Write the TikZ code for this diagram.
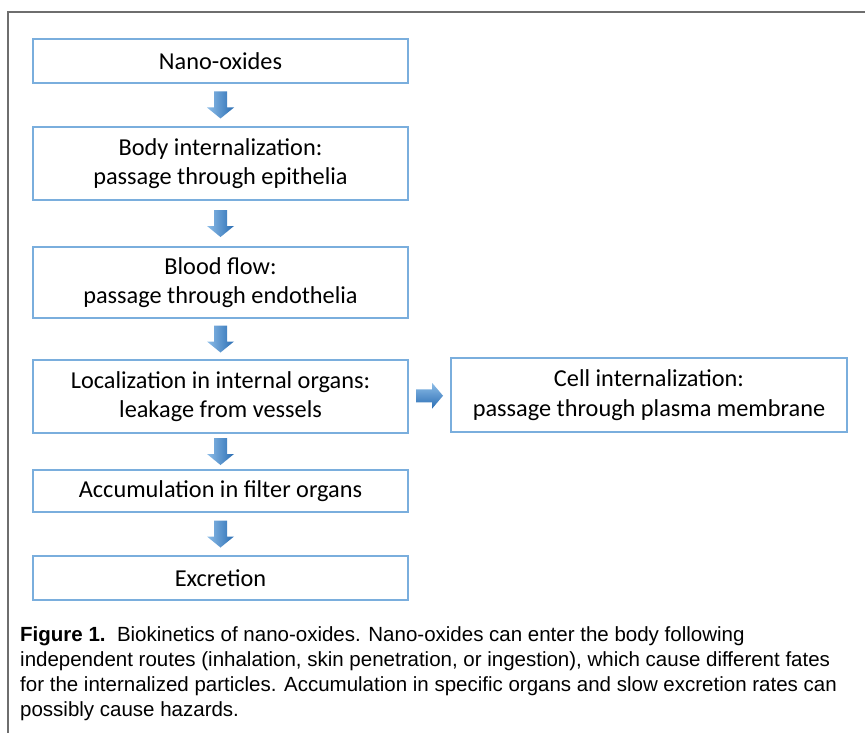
\documentclass[tikz,border=0pt]{standalone}
\usepackage{fontspec}
\setmainfont{Carlito}
\newfontfamily\capfont{Liberation Sans}
\usetikzlibrary{calc}
\definecolor{boxblue}{HTML}{7AAEDD}
\definecolor{arrowlight}{HTML}{8DBDE8}
\definecolor{arrowdark}{HTML}{2A6DB3}
\definecolor{framegrey}{HTML}{6E6E6E}

\begin{document}
\begin{tikzpicture}[x=1pt,y=-1pt,
  stage/.style={draw=boxblue,line width=1.4pt,fill=white,align=center,
                minimum width=375pt,inner sep=0pt,
                font=\fontsize{24.3}{29.5}\selectfont},
  flow/.style={left color=arrowlight,right color=arrowdark,draw=none}]
\newcommand{\downflow}[2]{\path ($(#1.south)!.5!(#2.north)$) coordinate (m);
  \shade[flow] ($(m)+(-6.5,-13.5)$) -- ($(m)+(6.5,-13.5)$) -- ($(m)+(6.5,2.5)$)
    -- ($(m)+(13.5,2.5)$) -- ($(m)+(0,13.5)$) -- ($(m)+(-13.5,2.5)$)
    -- ($(m)+(-6.5,2.5)$) -- cycle;}
\newcommand{\rightflow}[2]{\path ($(#1.east)!.5!(#2.west)$) coordinate (m);
  \shade[flow,top color=arrowlight,bottom color=arrowdark]
    ($(m)+(-13.5,-6.5)$) -- ($(m)+(2.5,-6.5)$) -- ($(m)+(2.5,-13)$)
    -- ($(m)+(13.5,0)$) -- ($(m)+(2.5,13)$) -- ($(m)+(2.5,6.5)$)
    -- ($(m)+(-13.5,6.5)$) -- cycle;}
\useasboundingbox (0,0) rectangle (865,733);

% frame
\draw[framegrey,line width=2pt] (8,733) -- (8,12) -- (865,12);

\node[stage,minimum height=44pt] (nano) at (220.5,61) {Nano-oxides};
\node[stage,minimum height=73pt] (body) at (220.5,163.5)
  {Body internalization:\\passage through epithelia};
\node[stage,minimum height=71pt] (blood) at (220.5,282.5)
  {Blood flow:\\passage through endothelia};
\node[stage,minimum height=73pt] (organs) at (220.5,396.5)
  {Localization in internal organs:\\leakage from vessels};
\node[stage,minimum height=74pt,minimum width=396pt] (cell) at (649,395)
  {Cell internalization:\\passage through plasma membrane};
\node[stage,minimum height=42pt] (filter) at (220.5,491)
  {Accumulation in filter organs};
\node[stage,minimum height=44pt] (excr) at (220.5,578) {Excretion};

\downflow{nano}{body}
\downflow{body}{blood}
\downflow{blood}{organs}
\downflow{organs}{filter}
\downflow{filter}{excr}
\rightflow{organs}{cell}

\node[anchor=north west,align=left,inner sep=0pt,
      font=\capfont\fontsize{20.5}{25}\selectfont] (caption) at (20,626)
  {\textbf{Figure 1.}\ \ Biokinetics of nano-oxides. Nano-oxides can enter the body following\\
   independent routes (inhalation, skin penetration, or ingestion), which cause different fates\\
   for the internalized particles. Accumulation in specific organs and slow excretion rates can\\
   possibly cause hazards.};
\end{tikzpicture}
\end{document}
